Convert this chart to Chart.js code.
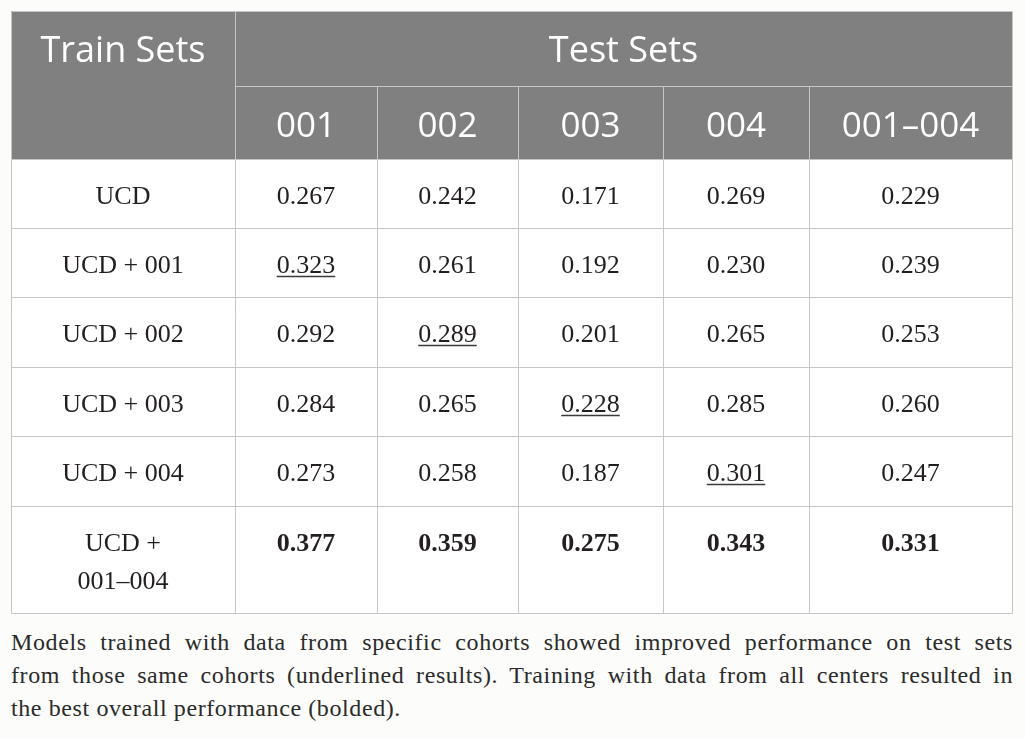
<!DOCTYPE html>
<html>
<head>
<meta charset="utf-8">
<script src="https://cdn.jsdelivr.net/npm/chart.js@4.4.1/dist/chart.umd.min.js"></script>
<style>
  body { margin: 0; background: #fcfcfa; }
  #wrap { position: relative; width: 1025px; height: 738px; }
  #table { position: absolute; left: 0; top: 0; }
  .caption {
    position: absolute; left: 11px; top: 626px; width: 1002px;
    font-family: "Liberation Serif", serif; font-size: 24px; line-height: 33px;
    letter-spacing: 0.6px; color: #2b2b2b;
  }
  .caption div { text-align: justify; text-align-last: justify; }
  .caption div.last { text-align-last: left; }
</style>
</head>
<body>
<div id="wrap">
  <canvas id="table" width="1025" height="620"></canvas>
  <div class="caption">
    <div>Models trained with data from specific cohorts showed improved performance on test sets</div>
    <div>from those same cohorts (underlined results). Training with data from all centers resulted in</div>
    <div class="last">the best overall performance (bolded).</div>
  </div>
</div>
<script>
// header labels
const testSets = ['001', '002', '003', '004', '001–004'];
const trainSets = ['UCD', 'UCD + 001', 'UCD + 002', 'UCD + 003', 'UCD + 004', ['UCD +', '001–004']];

// scores per training set, one value per test set
const ucd = [0.267, 0.242, 0.171, 0.269, 0.229];
const ucd001 = [0.323, 0.261, 0.192, 0.230, 0.239];
const ucd002 = [0.292, 0.289, 0.201, 0.265, 0.253];
const ucd003 = [0.284, 0.265, 0.228, 0.285, 0.260];
const ucd004 = [0.273, 0.258, 0.187, 0.301, 0.247];
const ucdAll = [0.377, 0.359, 0.275, 0.343, 0.331];
const rows = [ucd, ucd001, ucd002, ucd003, ucd004, ucdAll];

// table geometry, in table units (1 unit = 1px)
const colEdges = [0, 224, 366, 507, 652, 798, 1001];
const rowEdges = [0, 75, 148, 217, 286, 356, 425, 495, 602];
const baseOffset = 45;

const serif = '"Liberation Serif", "Times New Roman", serif';
const sans = '"Open Sans", "Noto Sans", sans-serif';

const datasets = rows.map((vals, r) => ({
    label: Array.isArray(trainSets[r]) ? trainSets[r].join(' ') : trainSets[r],
    data: vals.map((v, c) => ({
        x: (colEdges[c + 1] + colEdges[c + 2]) / 2,
        y: rowEdges[r + 2] + baseOffset,
        v: v
    })),
    pointRadius: 0,
    showLine: false
}));

const tablePlugin = {
    id: 'tableGrid',
    beforeDatasetsDraw(chart) {
        const ctx = chart.ctx;
        const xs = chart.scales.x, ys = chart.scales.y;
        const X = v => Math.round(xs.getPixelForValue(v));
        const Y = v => Math.round(ys.getPixelForValue(v));
        const L = X(0), R = X(colEdges[6]), T = Y(0), B = Y(rowEdges[8]);

        ctx.save();
        ctx.fillStyle = '#ffffff';
        ctx.fillRect(L, T, R - L, B - T);
        ctx.fillStyle = '#808080';
        ctx.fillRect(L, T, R - L, Y(rowEdges[2]) - T);

        ctx.strokeStyle = '#c6c6c6';
        ctx.lineWidth = 1;
        const line = (x1, y1, x2, y2) => {
            ctx.beginPath();
            ctx.moveTo(x1 + 0.5, y1 + 0.5);
            ctx.lineTo(x2 + 0.5, y2 + 0.5);
            ctx.stroke();
        };
        // horizontal rules
        line(L, T, R, T);
        line(X(colEdges[1]), Y(rowEdges[1]), R, Y(rowEdges[1]));
        for (let i = 2; i < rowEdges.length; i++) line(L, Y(rowEdges[i]), R, Y(rowEdges[i]));
        // vertical rules
        line(L, T, L, B);
        line(X(colEdges[1]), T, X(colEdges[1]), B);
        for (let i = 2; i < colEdges.length - 1; i++) line(X(colEdges[i]), Y(rowEdges[1]), X(colEdges[i]), B);
        line(R, T, R, B);

        // header text
        ctx.fillStyle = '#ffffff';
        ctx.textAlign = 'center';
        ctx.textBaseline = 'alphabetic';
        ctx.font = '36px ' + sans;
        ctx.fillText('Train Sets', xs.getPixelForValue(colEdges[1] / 2), ys.getPixelForValue(51));
        ctx.fillText('Test Sets', xs.getPixelForValue((colEdges[1] + colEdges[6]) / 2), ys.getPixelForValue(51));
        ctx.font = '35px ' + sans;
        testSets.forEach((t, c) => {
            ctx.fillText(t, xs.getPixelForValue((colEdges[c + 1] + colEdges[c + 2]) / 2), ys.getPixelForValue(126));
        });
        ctx.restore();
    },
    afterDatasetsDraw(chart) {
        const ctx = chart.ctx;
        const xs = chart.scales.x;
        ctx.save();
        ctx.fillStyle = '#231f20';
        ctx.strokeStyle = '#3a3a3a';
        ctx.textAlign = 'center';
        ctx.textBaseline = 'alphabetic';
        chart.data.datasets.forEach((ds, r) => {
            const meta = chart.getDatasetMeta(r);
            const bold = r === rows.length - 1;
            // row label
            ctx.font = '26px ' + serif;
            const lbl = [].concat(trainSets[r]);
            const y0 = meta.data[0].y;
            lbl.forEach((s, k) => ctx.fillText(s, xs.getPixelForValue(colEdges[1] / 2), y0 + k * 38));
            // values
            ctx.font = (bold ? 'bold ' : '') + '26px ' + serif;
            meta.data.forEach((el, c) => {
                const txt = ds.data[c].v.toFixed(3);
                ctx.fillText(txt, el.x, el.y);
                if (r >= 1 && r <= 4 && c === r - 1) {
                    const w = ctx.measureText(txt).width;
                    ctx.lineWidth = 1.3;
                    ctx.beginPath();
                    ctx.moveTo(el.x - w / 2, el.y + 3.5);
                    ctx.lineTo(el.x + w / 2, el.y + 3.5);
                    ctx.stroke();
                }
            });
        });
        ctx.restore();
    }
};

new Chart(document.getElementById('table'), {
    type: 'scatter',
    data: { datasets: datasets },
    options: {
        responsive: false,
        animation: false,
        events: [],
        layout: { padding: { left: 11, top: 11, right: 13, bottom: 7 } },
        plugins: { legend: { display: false }, tooltip: { enabled: false } },
        scales: {
            x: { type: 'linear', min: 0, max: colEdges[6], display: false },
            y: { type: 'linear', min: 0, max: rowEdges[8], reverse: true, display: false }
        }
    },
    plugins: [tablePlugin]
});
</script>
</body>
</html>
